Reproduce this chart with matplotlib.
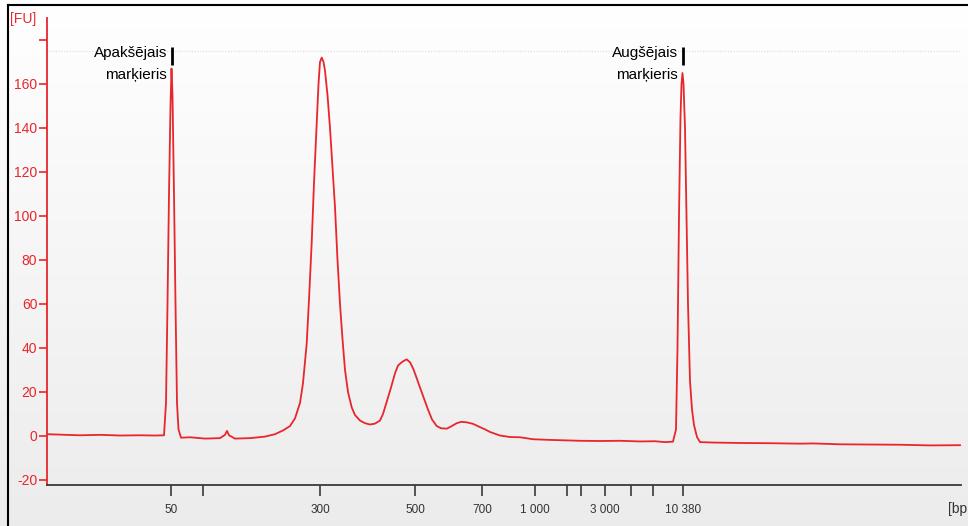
import numpy as np
import matplotlib
matplotlib.use("Agg")
import matplotlib.pyplot as plt
from matplotlib.lines import Line2D

plt.rcParams["font.family"] = ["Liberation Sans", "DejaVu Sans"]

RED = "#e8262b"

# trace: position along the run (x) and fluorescence (FU)
pos = [47, 60, 80, 100, 120, 140, 155, 164, 166, 167.5, 169, 170.5, 171.5, 172.5,
       174, 175.5, 177, 178.5, 181, 190, 205, 220, 225, 227, 229, 235, 250, 265,
       275, 283, 290, 295, 300, 303, 306.7, 309, 311.7, 314, 316.7, 318.5, 320,
       321.7, 323.5, 325, 327.5, 330, 332.5, 335, 337.5, 340, 342.5, 345, 348,
       351.7, 355, 360, 365, 370, 375, 380, 383, 386.7, 391, 395, 398, 401.7,
       404, 406.7, 410, 413.3, 416.5, 420, 424, 428, 432, 436.7, 441, 446.7, 451,
       456.7, 461, 466.7, 473, 480, 485, 490, 500, 510, 520, 533, 550, 565, 580,
       600, 620, 640, 655, 665, 673, 676, 677.5, 679, 680.5, 681.5, 682.5, 683.5,
       685, 686.5, 688, 690, 692, 694, 697, 700, 713, 740, 770, 800, 813, 840,
       870, 900, 930, 960]
fu = [0.8, 0.6, 0.3, 0.5, 0.2, 0.3, 0.2, 0.3, 15, 60, 110, 150, 167, 155,
      110, 60, 15, 3, -0.8, -0.6, -1.2, -1.0, 0.5, 2.3, 0.3, -1.2, -1.0, -0.3,
      0.8, 2.5, 4.5, 8, 15, 24, 42, 62, 88, 115, 142, 160, 170,
      172, 170, 166, 155, 140, 122, 104, 80, 60, 44, 30, 20,
      13, 9.5, 7, 5.8, 5.2, 5.6, 7, 10, 15.5, 22, 28.5, 32, 33.5,
      34.2, 34.8, 33.5, 30.5, 26.5, 22, 17, 12, 7.5, 4.5, 3.5, 3.3, 4.3,
      5.8, 6.4, 6.2, 5.5, 4, 3, 1.8, 0.2, -0.5, -0.6, -1.5, -1.8, -2.0, -2.2,
      -2.3, -2.2, -2.5, -2.4, -2.8, -2.6, 3, 40, 100, 145, 160, 165, 160,
      140, 100, 60, 25, 12, 5, -0.5, -2.8, -3.0, -3.2, -3.3, -3.5, -3.4, -3.8,
      -3.9, -4.0, -4.3, -4.2]

# size markers (bp) and where they sit on the x scale
bp_labels = ["50", "300", "500", "700", "1 000", "3 000", "10 380"]
bp_pos = [171, 320, 415, 482, 535, 605, 683]
minor_pos = [203, 567, 581, 631, 653]

fu_ticks = [-20, 0, 20, 40, 60, 80, 100, 120, 140, 160, 180]

marker_top = ["Apakšējais", "Augšējais"]
marker_bot = ["marķieris", "marķieris"]
marker_pos = [172, 683]

W, H = 968, 526
fig = plt.figure(figsize=(W / 100, H / 100), dpi=100)

# soft vertical background gradient
bg = fig.add_axes([0, 0, 1, 1], zorder=-5)
grad = np.linspace(1.0, 0.925, 256).reshape(-1, 1)
bg.imshow(np.dstack([grad, grad, grad]), aspect="auto", extent=[0, 1, 0, 1])
bg.set_axis_off()

x0, x1 = 47, 961
ytop, ybot = 18, 485
ax = fig.add_axes([x0 / W, 1 - ybot / H, (x1 - x0) / W, (ybot - ytop) / H])
ax.patch.set_alpha(0)

ax.plot(pos, fu, color=RED, lw=1.3, solid_joinstyle="round")

ax.set_xlim(x0, x1)
ax.set_ylim(-22.3, 190)

for s in ("top", "right"):
    ax.spines[s].set_visible(False)
ax.spines["left"].set_color(RED)
ax.spines["left"].set_linewidth(1.3)
ax.spines["bottom"].set_color("#3a3a3a")
ax.spines["bottom"].set_linewidth(1.3)

ax.set_yticks(fu_ticks)
ax.set_yticklabels([str(v) if v != 180 else "" for v in fu_ticks])
ax.tick_params(axis="y", colors=RED, labelcolor=RED, length=6, width=1.2,
               labelsize=10, pad=1)

ax.set_xticks(bp_pos + minor_pos)
ax.set_xticklabels(bp_labels + [""] * len(minor_pos))
ax.tick_params(axis="x", colors="#3a3a3a", labelcolor="#333333", length=8,
               width=1.2, labelsize=8.5, pad=6)

# faint dotted line near the top
ax.axhline(175, color="#dcdcdc", lw=0.8, ls=(0, (1, 1.5)), zorder=0)

for t1, t2, xp in zip(marker_top, marker_bot, marker_pos):
    ax.plot([xp, xp], [177, 168.5], color="black", lw=2, solid_capstyle="butt")
    ax.text(xp - 5, 174, t1, ha="right", va="center", fontsize=11,
            color="black")
    ax.text(xp - 5, 164, t2, ha="right", va="center", fontsize=11,
            color="black")

fig.text(10 / W, 1 - 19 / H, "[FU]", color=RED, fontsize=10, va="center",
         ha="left")
fig.text(948 / W, 1 - 509 / H, "[bp", color="#333333", fontsize=10,
         va="center", ha="left")

# frame edges at left and top
fig.add_artist(Line2D([8 / W, 8 / W], [0, 1 - 5 / H], color="black", lw=1.5,
                      transform=fig.transFigure))
fig.add_artist(Line2D([8 / W, 1], [1 - 5 / H, 1 - 5 / H], color="black", lw=1.5,
                      transform=fig.transFigure))

fig.savefig("out.png", dpi=100)
